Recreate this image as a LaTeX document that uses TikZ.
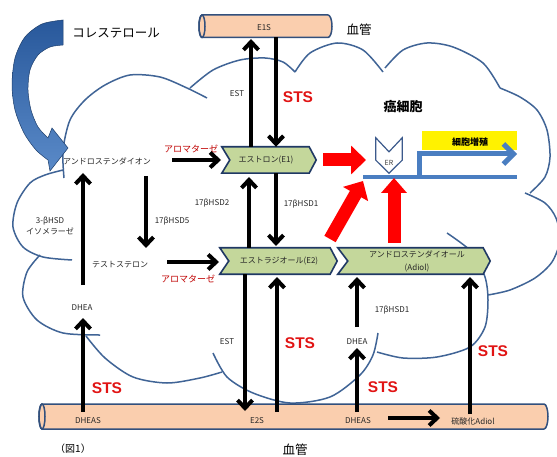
\documentclass[tikz,border=0pt]{standalone}
\usepackage{fontspec}
\setmainfont{Noto Sans CJK JP}
\newfontfamily\lsans{Liberation Sans}
\usetikzlibrary{arrows.meta}
\definecolor{cloudc}{RGB}{64,100,150}
\definecolor{chevf}{RGB}{196,215,155}
\definecolor{chevd}{RGB}{31,56,100}
\definecolor{tubef}{RGB}{250,206,174}
\definecolor{tubed}{RGB}{50,80,125}
\definecolor{dnab}{RGB}{74,126,193}
\definecolor{stsred}{RGB}{225,20,20}
\definecolor{aromred}{RGB}{192,0,0}
\definecolor{cholb}{RGB}{40,88,155}
\definecolor{cholb2}{RGB}{90,138,200}
\definecolor{erc}{RGB}{60,90,140}
\tikzset{
  lbl/.style={font=\fontsize{8}{9.5}\selectfont, text=black!85, inner sep=1pt},
  sts/.style={font=\lsans\bfseries\fontsize{15.5}{16}\selectfont, text=stsred, inner sep=0},
  arom/.style={font=\fontsize{9}{10}\selectfont, text=aromred, inner sep=0},
  big/.style={font=\fontsize{12.5}{14}\selectfont, text=black, inner sep=0},
  blk/.style={line width=4pt, draw=black, -{Straight Barb[length=8pt,width=15pt]}},
  redarr/.style={line width=13pt, draw=red, -{Triangle[length=15pt,width=28pt]}},
  cloudln/.style={draw=cloudc, line width=1.5pt},
  chevst/.style={fill=chevf, draw=chevd, line width=1.6pt, line join=miter},
  chevbox/.style={minimum height=26pt, inner sep=0, draw=none},
  tubest/.style={fill=tubef, draw=tubed, line width=1.5pt},
}
\newcommand\chevshape[3]{%
  \path[chevst] (#1.north west) -- ([xshift=-#3pt]#1.north east) -- (#1.east) -- ([xshift=-#3pt]#1.south east) -- (#1.south west) -- ([xshift=#2pt]#1.west) -- cycle;}
\begin{document}
\begin{tikzpicture}[x=1pt,y=-1pt]
\useasboundingbox (0,0) rectangle (557,457);
\clip (0,0) rectangle (557,457);
\fill[white] (0,0) rectangle (557,457);

% cloud outline
\draw[cloudln] plot[smooth] coordinates {(64,178) (63,150) (70,120) (85,100) (105,85) (130,75) (160,77) (187,88) (207,98)};
\draw[cloudln] plot[smooth] coordinates {(63,170) (45,175) (30,183) (17,203) (13,227) (23,247) (43,257) (72,260)};
\draw[cloudln] plot[smooth] coordinates {(40,255) (27,272) (23,297) (37,320) (63,333) (100,335)};
\draw[cloudln] plot[smooth] coordinates {(86,336) (105,358) (133,377) (167,383) (200,378) (222,372)};
\draw[cloudln] plot[smooth] coordinates {(213,353) (227,377) (253,393) (290,403) (330,397) (360,375) (373,355) (378,333)};
\draw[cloudln] plot[smooth] coordinates {(377,352) (403,358) (437,357) (470,347) (485,327) (488,300) (485,277) (473,253) (447,233)};
\draw[cloudln] plot[smooth] coordinates {(525,193) (545,203) (556,218) (560,240) (552,262) (535,278) (510,290) (488,295)};
\draw[cloudln] plot[smooth] coordinates {(500,88) (520,97) (537,110) (547,130) (550,157) (545,177) (530,193)};
\draw[cloudln] plot[smooth] coordinates {(385,68) (403,50) (427,43) (453,47) (483,63) (500,88)};
\draw[cloudln] plot[smooth] coordinates {(295,72) (310,53) (337,43) (363,50) (383,72)};
\draw[cloudln] plot[smooth] coordinates {(190,88) (213,70) (240,60) (265,58) (283,62) (295,72)};

% cholesterol arrow
\path[top color=cholb, bottom color=cholb2, draw=cholb!70!black, line width=0.5pt]
  plot[smooth] coordinates {(63,20) (42,24) (25,37) (15,58) (12,85) (15,110) (24,133) (36,150) (48,160)}
  -- (50,171) -- (68,148) -- (52,128)
  -- plot[smooth] coordinates {(48,138) (38,127) (31,110) (28,90) (30,70) (38,55) (50,47) (63,45)} -- cycle;
\node[big] (chol) at (116,33) {コレステロール};

% blood vessels
\path[tubest] (202,15) -- (328,15) arc[start angle=90,end angle=-90,x radius=4pt,y radius=11.25pt] -- (202,37.5) arc[start angle=270,end angle=90,x radius=3pt,y radius=11.25pt] -- cycle;
\draw[tubed, line width=1.5pt] (202,26.25) ellipse[x radius=3pt, y radius=11.25pt];
\node[lbl] (e1s) at (264,28) {E1S};
\node[big] (vessel1) at (359,30) {血管};

\path[tubest] (42,404) -- (544,404) arc[start angle=90,end angle=-90,x radius=4pt,y radius=12.5pt] -- (42,429) arc[start angle=270,end angle=90,x radius=3pt,y radius=12.5pt] -- cycle;
\draw[tubed, line width=1.5pt] (42,416.5) ellipse[x radius=3pt, y radius=12.5pt];
\node[lbl] (dheasL) at (88,421) {DHEAS};
\node[lbl] (e2s) at (257,421) {E2S};
\node[lbl] (dheasR) at (358,421) {DHEAS};
\node[lbl] (sadiol) at (473,421) {硫酸化Adiol};
\node[big] (vessel2) at (295,450) {血管};
\node[font=\fontsize{10}{11}\selectfont, inner sep=0] (fig) at (73,449) {（図1）};

% chevrons
\node[chevbox, minimum width=94pt] (e1) at (269,160) {};
\chevshape{e1}{8}{7}
\node[lbl] (e1t) at (266,160) {エストロン(E1)};
\node[chevbox, minimum width=117pt] (e2) at (278.5,261) {};
\chevshape{e2}{9}{7}
\node[lbl] (e2t) at (279,261) {エストラジオール(E2)};
\node[chevbox, minimum width=152pt] (adiol) at (414,261) {};
\chevshape{adiol}{10}{7}
\node[lbl, align=center, font=\fontsize{8}{13}\selectfont] (adiolt) at (417,261.5) {アンドロステンダイオール\\(Adiol)};

% ER and proliferation
\node[fill=yellow, minimum width=95pt, minimum height=19pt, inner sep=0] (prolif) at (469.5,140.5) {};
\node[font=\bfseries\fontsize{9}{10}\selectfont, inner sep=0] (prolift) at (470,142) {細胞増殖};
\node[big, font=\bfseries\fontsize{13}{14}\selectfont] (cancer) at (403,107) {癌細胞};
\coordinate (dnaL) at (363,177);
\coordinate (dnaR) at (517,177);
\coordinate (dnaB) at (419,177);
\coordinate (dnaT) at (517,154);
\draw[dnab, line width=4.5pt] (dnaL) -- (dnaR);
\draw[dnab, line width=5pt, -{Straight Barb[length=10pt,width=20pt]}] (dnaB) |- (dnaT);
\node[minimum width=26pt, minimum height=35pt, inner sep=0] (er) at (389,155.5) {};
\path[fill=white, draw=erc, line width=1.2pt] (er.north west) -- ([yshift=-14pt]er.north) -- (er.north east) -- ([yshift=13pt]er.south east) -- (er.south) -- ([yshift=13pt]er.south west) -- cycle;
\node[font=\fontsize{7}{8}\selectfont, text=black!75, inner sep=0] (ert) at (389,163) {ER};

% red arrows
\coordinate (r1s) at (323,160); \coordinate (r1e) at (366,160);
\coordinate (r2s) at (330,239); \coordinate (r2e) at (363,181);
\coordinate (r3s) at (394,243); \coordinate (r3e) at (394,178);
\draw[redarr] (r1s) -- (r1e);
\draw[redarr] (r2s) -- (r2e);
\draw[redarr, -{Triangle[length=15pt,width=25pt]}] (r3s) -- (r3e);

% text labels
\node[lbl] (andro) at (107,161) {アンドロステンダイオン};
\node[lbl] (testo) at (120,265) {テストステロン};
\node[lbl] (dheaL) at (82,308) {DHEA};
\node[lbl] (dheaR) at (357,342) {DHEA};
\node[lbl, align=center, font=\fontsize{8}{11}\selectfont] (hsd3) at (50,225.5) {3-βHSD\\イソメラーゼ};
\node[lbl] (hsd5) at (172,221) {17βHSD5};
\node[lbl] (hsd2) at (212,203) {17βHSD2};
\node[lbl] (hsd1a) at (301,204) {17βHSD1};
\node[lbl] (hsd1b) at (392,310) {17βHSD1};
\node[lbl] (est1) at (237,94) {EST};
\node[lbl] (est2) at (227,342) {EST};
\node[sts] (sts1) at (298,97) {STS};
\node[sts] (sts2) at (300,343) {STS};
\node[sts] (sts3) at (107,388) {STS};
\node[sts] (sts4) at (383,387) {STS};
\node[sts] (sts5) at (493,351) {STS};
\node[arom] (arom1) at (191,149) {アロマターゼ};
\node[arom] (arom2) at (188,279) {アロマターゼ};

% black arrows
\coordinate (a1s) at (172,160); \coordinate (a1e) at (221,160);
\coordinate (a2s) at (167,262); \coordinate (a2e) at (219,262);
\draw[blk] (a1s) -- (a1e);
\draw[blk] (a2s) -- (a2e);
\draw[blk] (251,0 |- e1.north) -- (251,39);
\draw[blk] (276,37) -- (276,0 |- e1.north);
\draw[blk] (249,0 |- e2.north) -- (249,177);
\draw[blk] (276,0 |- e1.south) -- (276,246);
\draw[blk] (245,0 |- e2.south) -- (245,411);
\draw[blk] (277,412) -- (277,277);
\draw[blk] (83,412) -- (83,318);
\draw[blk] (83,285) -- (83,173);
\draw[blk] (146,176) -- (146,248);
\draw[blk] (357,412) -- (357,348);
\draw[blk] (357,327) -- (357,277);
\draw[blk] (470,414) -- (470,277);
\draw[blk] (388,418) -- (440,418);
\end{tikzpicture}
\end{document}
